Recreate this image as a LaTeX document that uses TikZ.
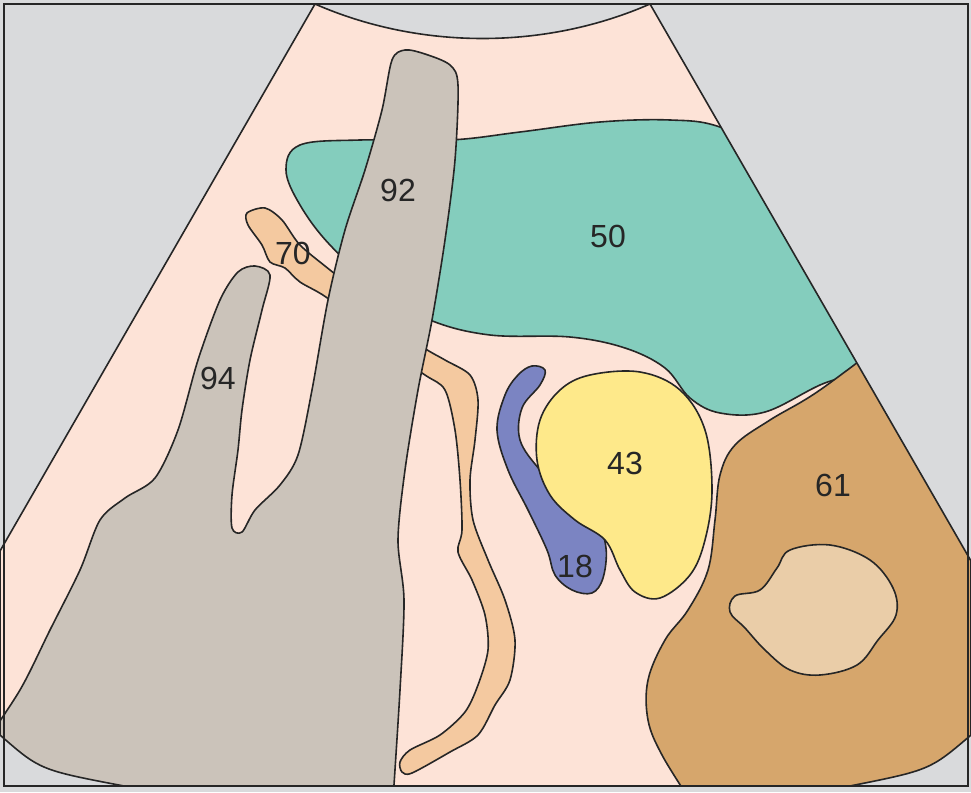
\documentclass[tikz,border=0pt]{standalone}
\usepackage{fontspec}
\setmainfont{Liberation Sans}
\definecolor{bgray}{HTML}{D9DADC}
\definecolor{skin}{HTML}{FDE3D7}
\definecolor{liver}{HTML}{84CDBD}
\definecolor{bone}{HTML}{CBC3BA}
\definecolor{duct}{HTML}{F4C9A0}
\definecolor{yolk}{HTML}{FEE98A}
\definecolor{vein}{HTML}{7B84C2}
\definecolor{kidney}{HTML}{D6A66C}
\definecolor{pelvis}{HTML}{EACDA8}
\tikzstyle{organ}=[draw=black!85,line width=1.6pt,line join=round]
\tikzstyle{num}=[font=\fontsize{32}{32}\selectfont,text=black!85]
\begin{document}
\begin{tikzpicture}[x=1pt,y=-1pt]
  \useasboundingbox (0,0) rectangle (971,792);
  \fill[bgray] (0,0) rectangle (971,792);

  % fan
  \def\fan{(315,4) .. controls (420,50) and (545,50) .. (650,4) -- (971,561) -- (971,735)
    .. controls (930,770) .. (850,786) -- (124,786) .. controls (40,770) .. (0,735) -- (0,551) -- cycle}
  \fill[skin] \fan;
  \begin{scope}
    \clip \fan;
    \draw[organ,fill=liver] plot[smooth cycle,tension=.6] coordinates{(300,145) (360,140) (450,140)
      (520,132) (600,122) (670,120) (720,127) (790,160) (900,300) (880,360) (820,385) (765,412) (720,413)
      (690,398) (665,368) (625,348) (570,337) (490,335) (430,320) (380,290) (330,245) (300,205) (286,170)};
    \draw[organ,fill=duct] plot[smooth cycle,tension=.5] coordinates{(265,208) (282,220) (300,245)
      (330,270) (380,310) (420,345) (445,360) (470,375) (478,400) (475,440) (470,480) (473,520)
      (488,560) (505,600) (515,640) (510,680) (495,705) (478,735) (450,752) (412,773) (402,772)
      (400,762) (410,750) (440,735) (465,712) (478,685) (488,650) (485,615) (472,580) (458,552)
      (462,530) (460,480) (455,430) (445,390) (425,375) (380,345) (330,300) (300,282) (285,268)
      (270,262) (262,245) (248,225) (247,213)};
    \draw[organ,fill=bone] plot[smooth,tension=.5] coordinates{(-20,750) (20,690) (50,630) (80,570)
      (100,520) (125,498) (155,478) (178,430) (198,360) (220,300) (238,272) (255,266) (270,275)
      (262,310) (250,360) (242,410) (238,450) (232,495) (232,528) (242,532) (255,510) (280,485)
      (298,455) (312,390) (328,300) (345,230) (365,170) (382,110) (392,60) (405,50) (425,54)
      (450,65) (458,85) (455,160) (445,240) (432,320) (418,390) (405,470) (398,540) (404,600)
      (400,690) (393,800)} -- (-20,800) -- cycle;
    \draw[organ,fill=vein] plot[smooth cycle,tension=.6] coordinates{(532,366) (545,370) (540,385)
      (522,408) (520,440) (540,470) (570,500) (596,520) (606,548) (603,578) (592,593) (572,590)
      (555,575) (547,550) (528,510) (508,470) (497,430) (505,395) (518,375)};
    \draw[organ,fill=yolk] plot[smooth cycle,tension=.6] coordinates{(590,375) (640,372) (680,390)
      (705,430) (712,490) (705,540) (690,575) (660,598) (635,592) (620,570) (605,540) (575,520)
      (550,495) (537,460) (540,420) (560,390)};
    \draw[organ,fill=kidney] plot[smooth,tension=.6] coordinates{(900,330) (820,390) (770,420)
      (735,445) (720,475) (715,520) (708,570) (688,610) (665,640) (648,680) (648,720) (662,755)
      (690,800)} -- (1000,800) -- (1000,330) -- cycle;
    \draw[organ,fill=pelvis] plot[smooth cycle,tension=.6] coordinates{(790,550) (830,545) (870,560)
      (893,588) (896,615) (878,640) (857,665) (820,675) (790,670) (765,650) (745,628) (730,612)
      (735,596) (760,590) (777,568)};
  \end{scope}
  \draw[organ] \fan;
  \draw[black!85,line width=1.2pt] (4,4) rectangle (968,786);

  \node[num] (n92) at (398,190) {92};
  \node[num] (n50) at (608,236) {50};
  \node[num] (n70) at (293,253) {70};
  \node[num] (n94) at (218,378) {94};
  \node[num] (n43) at (625,463) {43};
  \node[num] (n18) at (575,566) {18};
  \node[num] (n61) at (833,485) {61};
\end{tikzpicture}
\end{document}
